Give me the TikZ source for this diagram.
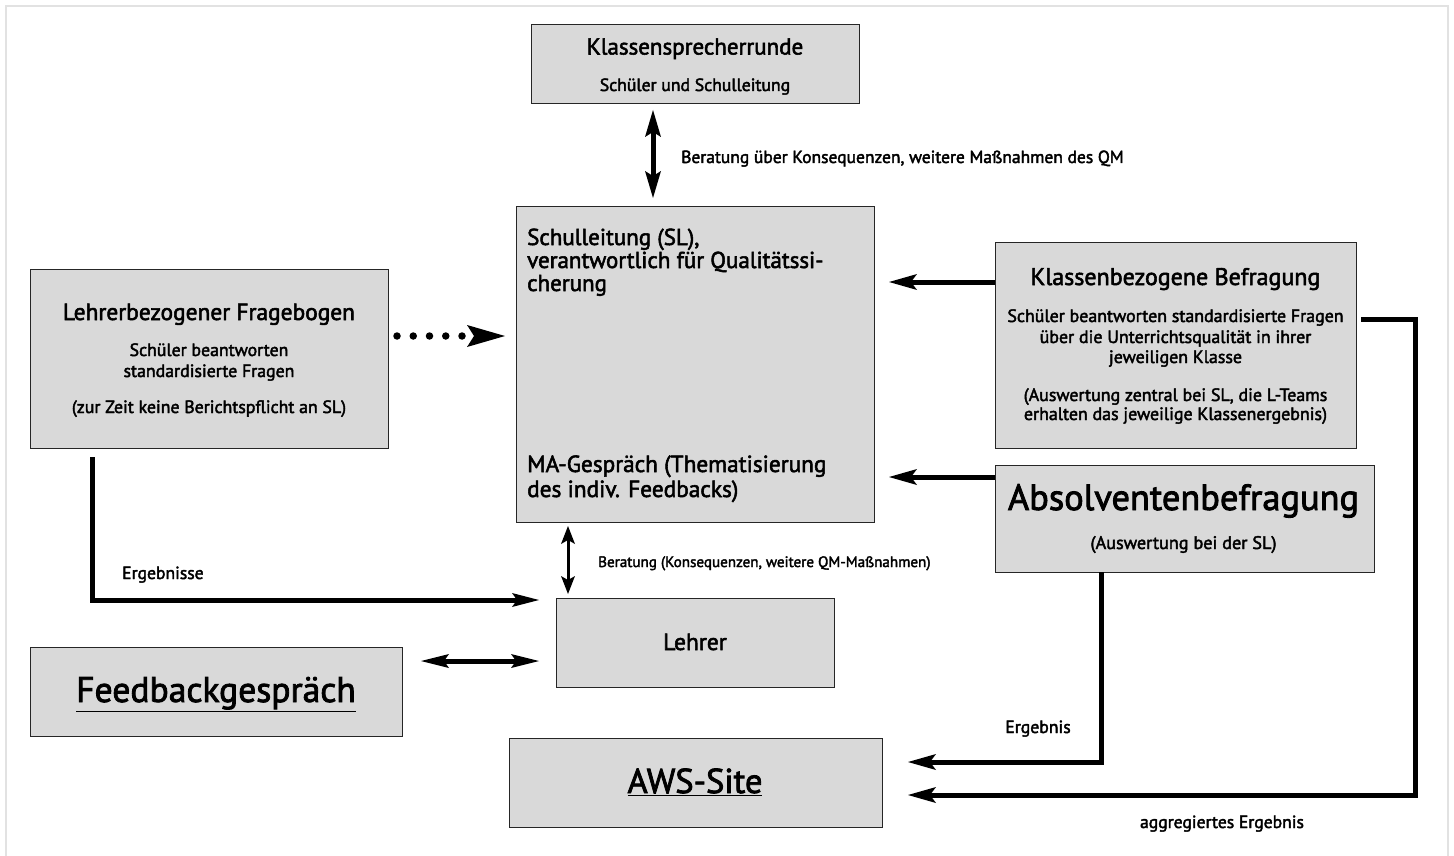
\documentclass[tikz,border=0pt]{standalone}
\usepackage{fontspec}
\setmainfont{PT Sans}[FakeBold=2.3]
\usetikzlibrary{arrows.meta,calc}
\definecolor{boxgray}{RGB}{217,217,217}
\definecolor{framegray}{RGB}{226,226,226}
\newcommand{\myfs}[1]{\fontsize{#1pt}{#1pt}\selectfont}
\begin{document}
\begin{tikzpicture}[x=1pt,y=-1pt,
  box/.style={draw=black!85,line width=1pt,fill=boxgray,anchor=north west,inner sep=0pt,outer sep=0pt},
  ctext/.style={inner sep=0pt,anchor=base},
  ltext/.style={inner sep=0pt,anchor=base west},
  arr/.style={line width=5pt,-{Stealth[length=28pt,width=16pt,inset=6pt,line width=0pt]}},
  arrs/.style={line width=5pt,-{Stealth[length=27pt,width=14pt,inset=5pt,line width=0pt]}},
  dblA/.style={line width=5pt,{Stealth[length=27pt,width=16pt,inset=5pt,line width=0pt]}-{Stealth[length=27pt,width=16pt,inset=5pt,line width=0pt]}},
  dblB/.style={line width=3pt,{Stealth[length=18pt,width=14pt,inset=4pt,line width=0pt]}-{Stealth[length=18pt,width=14pt,inset=4pt,line width=0pt]}},
  dblC/.style={line width=5pt,{Stealth[length=28pt,width=14pt,inset=5pt,line width=0pt]}-{Stealth[length=28pt,width=14pt,inset=5pt,line width=0pt]}},
  dotA/.style={line width=7.5pt,line cap=round,dash pattern=on 0pt off 16.25pt,-{Stealth[length=38pt,width=22pt,inset=7pt,line width=0pt]}}
]
\useasboundingbox (0,0) rectangle (1454,856);
\draw[framegray,line width=1.5pt] (6,856) -- (6,6) -- (1448,6) -- (1448,856);

% boxes
\node[box,minimum width=328pt,minimum height=79pt] (ksr) at (531,25) {};
\node[box,minimum width=358pt,minimum height=316pt] (sl) at (516,206) {};
\node[box,minimum width=358pt,minimum height=179pt] (lfb) at (30,269) {};
\node[box,minimum width=361pt,minimum height=206pt] (kb) at (995,242) {};
\node[box,minimum width=379pt,minimum height=107pt] (ab) at (995,465) {};
\node[box,minimum width=278pt,minimum height=89pt] (lehrer) at (556,598) {};
\node[box,minimum width=372pt,minimum height=89pt] (fbg) at (30,647) {};
\node[box,minimum width=373pt,minimum height=89pt] (aws) at (509,738) {};

% texts
\node[ctext] (ksrT) at (695,54.5) {\myfs{23}Klassensprecherrunde};
\node[ctext] (ksrS) at (695,91) {\myfs{17.7}Schüler und Schulleitung};

\node[ltext] (slA) at (527,245) {\myfs{23}Schulleitung (SL),};
\node[ltext] (slB) at (527,268) {\myfs{23}verantwortlich für Qualitätssi-};
\node[ltext] (slC) at (527,291) {\myfs{23}cherung};
\node[ltext] (slD) at (527,472) {\myfs{23.3}MA-Gespräch (Thematisierung};
\node[ltext] (slE) at (527,497) {\myfs{23.3}des indiv. Feedbacks)};

\node[ctext] (lfbT) at (209,320) {\myfs{23.4}Lehrerbezogener Fragebogen};
\node[ctext] (lfbA) at (209,356) {\myfs{17.8}Schüler beantworten};
\node[ctext] (lfbB) at (209,377) {\myfs{17.8}standardisierte Fragen};
\node[ctext] (lfbC) at (209,413) {\myfs{17.8}(zur Zeit keine Berichtspflicht an SL)};

\node[ctext] (kbT) at (1175.5,285) {\myfs{24}Klassenbezogene Befragung};
\node[ctext] (kbA) at (1175.5,322) {\myfs{17.9}Schüler beantworten standardisierte Fragen};
\node[ctext] (kbB) at (1175.5,343) {\myfs{17.9}über die Unterrichtsqualität in ihrer};
\node[ctext] (kbC) at (1175.5,363) {\myfs{17.9}jeweiligen Klasse};
\node[ctext] (kbD) at (1175.5,401) {\myfs{17.9}(Auswertung zentral bei SL, die L-Teams};
\node[ctext] (kbE) at (1175.5,420) {\myfs{17.9}erhalten das jeweilige Klassenergebnis)};

\node[ctext] (abT) at (1183.5,510) {\myfs{36.4}Absolventenbefragung};
\node[ctext] (abS) at (1183.5,549) {\myfs{18.2}(Auswertung bei der SL)};

\node[ctext] (lehrerT) at (695,650) {\myfs{23.5}Lehrer};
\node[ctext] (fbgT) at (216,702) {\myfs{35.6}\underline{Feedbackgespräch}};
\node[ctext] (awsT) at (695,793) {\myfs{34.5}\underline{AWS-Site}};

% labels
\node[ltext] (lbKsr) at (681,163) {\myfs{17.5}Beratung über Konsequenzen, weitere Maßnahmen des QM};
\node[ltext] (lbLehrer) at (598,567) {\myfs{15.1}Beratung (Konsequenzen, weitere QM-Maßnahmen)};
\node[ltext] (lbErg) at (122,579) {\myfs{17.6}Ergebnisse};
\node[ctext] (lbErg2) at (1038,733) {\myfs{17.7}Ergebnis};
\node[ctext] (lbAgg) at (1222,828) {\myfs{17.6}aggregiertes Ergebnis};

% connectors
\draw[dblA] ($(ksr.south)+(-42,6)$) -- ($(sl.north)+(-42,-8)$);
\coordinate (d1) at ($(lfb.north east)+(9,67)$);
\draw[dotA] (d1) -- ($(sl.west |- d1)+(-11,0)$);
\draw[arr] ($(kb.north west)+(0,40)$) -- ($(sl.north east)+(15,76)$);
\draw[arr] ($(ab.north west)+(0,12)$) -- ($(sl.north east)+(15,271)$);
\coordinate (rx) at (1415,319);
\draw[arr] ($(kb.north east)+(5,77)$) -- (rx) |- ($(aws.north east)+(26,57)$);
\draw[arr] ($(ab.south west)+(106,0)$) |- ($(aws.north east)+(26,24)$);
\draw[arrs] ($(lfb.south west)+(62,9)$) |- ($(lehrer.north west)+(-17,2)$);
\draw[dblB] ($(sl.south west)+(52,4)$) -- ($(lehrer.north west)+(12,-4)$);
\draw[dblC] ($(fbg.north east)+(19,14)$) -- ($(lehrer.north west)+(-17,63)$);
\end{tikzpicture}
\end{document}
